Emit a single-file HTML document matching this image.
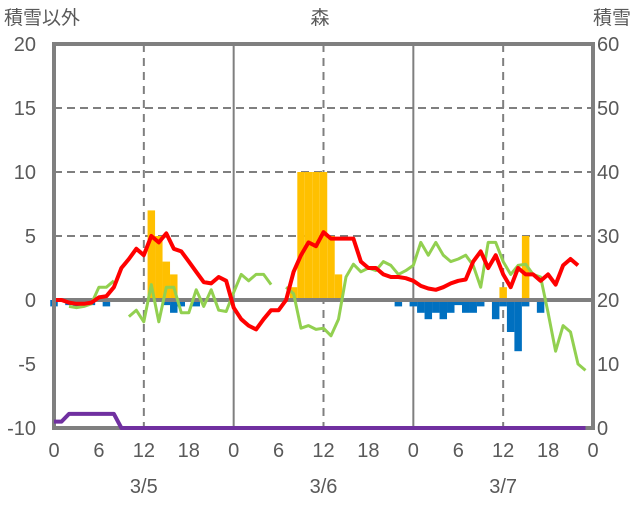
<!DOCTYPE html>
<html><head><meta charset="utf-8"><style>
body{margin:0;background:#fff;}
svg text{font-family:"Liberation Sans","Noto Sans CJK JP",sans-serif;fill:#595959;}
</style></head><body>
<svg id="chart" width="636" height="501" viewBox="0 0 636 501" xmlns="http://www.w3.org/2000/svg">
<g id="grid"></g><g id="bars"></g><g id="lines"></g><g id="frame"></g><g id="labels"></g>
</svg>
<script>
const hours = Array.from({length:72},(_,i)=>i);
const leftTicks = [20,15,10,5,0,-5,-10];
const rightTicks = [60,50,40,30,20,10,0];
const xTickLabels = ["0","6","12","18","0","6","12","18","0","6","12","18","0"];
const dateLabels = ["3/5","3/6","3/7"];
const orangeHours = [13,14,15,16,32,33,34,35,36,37,38,60,63];
const orangeVals = [7,5,3,2,1,10,10,10,10,5,2,1,5];
const blueHours = [0,2,3,4,5,7,15,16,17,19,46,48,49,50,51,52,53,54,55,56,57,59,60,61,62,63,65];
const blueVals = [-0.5,-0.4,-0.5,-0.5,-0.4,-0.5,-0.4,-1,-0.5,-0.5,-0.5,-0.5,-1,-1.5,-1,-1.5,-1,-0.4,-1,-1,-0.5,-1.5,-0.5,-2.5,-4,-0.5,-1];
const redVals = [0,0,-0.2,-0.3,-0.3,-0.2,0.2,0.3,1,2.5,3.2,4,3.5,5,4.5,5.2,4,3.8,3,2.2,1.4,1.3,1.8,1.5,-0.6,-1.5,-2,-2.3,-1.5,-0.8,-0.8,0,2.2,3.5,4.5,4.2,5.3,4.8,4.8,4.8,4.8,3,2.5,2.5,2,1.8,1.8,1.7,1.5,1.1,0.9,0.8,1,1.3,1.5,1.6,3,3.8,2.5,3.5,2,1,2.5,2,2,1.5,2,1.2,2.7,3.2,2.7,null];
const greenVals = [null,null,-0.5,-0.6,-0.5,-0.3,1,1,1.5,null,-1.3,-0.8,-1.7,1.2,-1.7,1,1,-1,-1,0.8,-0.5,0.8,-0.8,-0.9,0.6,2,1.5,2,2,1.2,null,1,0.5,-2.2,-2,-2.3,-2.2,-2.8,-1.5,1.8,2.8,2.2,2.5,2.3,3,2.7,2,2.3,2.7,4.5,3.5,4.5,3.5,3,3.2,3.5,2.7,1,4.5,4.5,3,2,2.7,2.8,2,1.8,-1,-4,-2,-2.5,-5,-5.5];
const purpleVals = [1,1,2.2,2.2,2.2,2.2,2.2,2.2,2.2,0,0,0,0,0,0,0,0,0,0,0,0,0,0,0,0,0,0,0,0,0,0,0,0,0,0,0,0,0,0,0,0,0,0,0,0,0,0,0,0,0,0,0,0,0,0,0,0,0,0,0,0,0,0,0,0,0,0,0,0,0,0,0];

const X0=54,X1=593,YT=44,YB=428;
const x=h=>X0+(X1-X0)*h/72;
const yL=v=>YB-(v+10)/30*(YB-YT);
const yR=v=>YB-v/60*(YB-YT);
const NS="http://www.w3.org/2000/svg";
function mk(tag,parent,attrs){const e=document.createElementNS(NS,tag);for(const k in attrs)e.setAttribute(k,attrs[k]);document.getElementById(parent).appendChild(e);return e;}

// grid
[5,10,15].forEach(v=>{const l=mk('line','grid',{x1:X0,x2:X1,y1:yL(v),y2:yL(v),stroke:'#7f7f7f','stroke-width':2,'stroke-dasharray':'8,5'});

});
[24,48].forEach(h=>{const l=mk('line','grid',{x1:x(h),x2:x(h),y1:YT,y2:YB,stroke:'#7f7f7f','stroke-width':2});

});
[12,36,60].forEach(h=>{const l=mk('line','grid',{x1:x(h),x2:x(h),y1:YT,y2:YB,stroke:'#7f7f7f','stroke-width':2,'stroke-dasharray':'8,6'});

});

// bars
const bw=(X1-X0)/72;
orangeHours.forEach((h,i)=>{const v=orangeVals[i];const r=mk('rect','bars',{x:x(h)-bw/2,y:yL(v),width:bw,height:yL(0)-yL(v),fill:'#ffc000'});

});
blueHours.forEach((h,i)=>{const v=blueVals[i];const r=mk('rect','bars',{x:x(h)-bw/2,y:yL(0),width:bw,height:yL(v)-yL(0),fill:'#0070c0'});

});

// zero line
const z=mk('line','bars',{x1:X0,x2:X1,y1:yL(0),y2:yL(0),stroke:'#7f7f7f','stroke-width':4});



function pathOf(vals,yf){let d='',pen=false;vals.forEach((v,i)=>{if(v===null){pen=false;return;}d+=(pen?'L':'M')+x(hours[i]).toFixed(1)+','+yf(v).toFixed(1);pen=true;});return d;}
const g=mk('path','lines',{d:pathOf(greenVals,yL),fill:'none',stroke:'#92d050','stroke-width':3,'stroke-linejoin':'round'});


const r=mk('path','lines',{d:pathOf(redVals,yL),fill:'none',stroke:'#ff0000','stroke-width':4,'stroke-linejoin':'round'});



// frame
const f=mk('rect','frame',{x:X0,y:YT,width:X1-X0,height:YB-YT,fill:'none',stroke:'#7f7f7f','stroke-width':4});


const p=mk('path','frame',{d:pathOf(purpleVals,yR),fill:'none',stroke:'#7030a0','stroke-width':4,'stroke-linejoin':'round'});



// labels
function txt(s,xx,yy,anchor,size,name){const t=mk('text','labels',{x:xx,y:yy,'text-anchor':anchor,'font-size':size});t.textContent=s;

return t;}
leftTicks.forEach(v=>txt(String(v),36,yL(v)+7,'end',20,'left-tick-label'));
rightTicks.forEach(v=>txt(String(v),597,yR(v)+7,'start',20,'right-tick-label'));
xTickLabels.forEach((s,i)=>txt(s,x(i*6),457,'middle',20,'x-tick-label'));
dateLabels.forEach((s,i)=>txt(s,x(12+24*i),493,'middle',20,'date-label'));
txt('積雪以外',4,24,'start',19,'left-axis-title');
txt('森',320,24,'middle',19,'chart-title');
txt('積雪',631,24,'end',19,'right-axis-title');
</script>
</body></html>
